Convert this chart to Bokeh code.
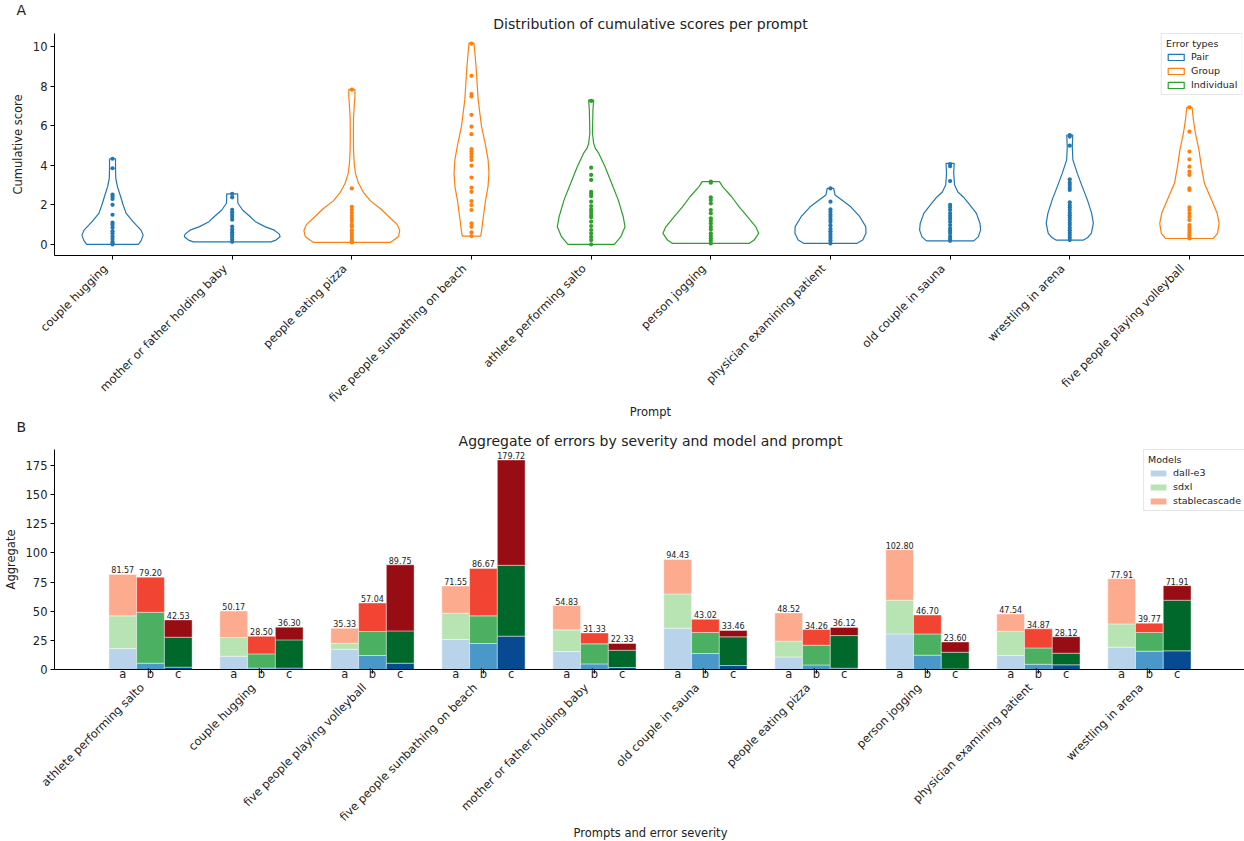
import math
from bokeh.plotting import figure
from bokeh.models import (FixedTicker, Legend, LegendItem, LinearAxis, Title,
                          Range1d, ColumnDataSource, CustomJSTickFormatter)
from bokeh.layouts import column
from bokeh.embed import file_html
from bokeh.resources import INLINE
from bokeh.core.properties import value

FONT = "DejaVu Sans"
TXT = "#222222"

# ---------------- Panel A data ----------------
violin_prompts = ["couple hugging", "mother or father holding baby", "people eating pizza",
                  "five people sunbathing on beach", "athlete performing salto", "person jogging",
                  "physician examining patient", "old couple in sauna", "wrestling in arena",
                  "five people playing volleyball"]
violin_types = ["Pair", "Pair", "Group", "Group", "Individual", "Individual",
                "Pair", "Pair", "Pair", "Group"]
type_colors = {"Pair": "#1f77b4", "Group": "#ff7f0e", "Individual": "#2ca02c"}

# violin outlines: score levels and half-widths (density)
hug_y = [0.0, 0.18, 0.47, 0.72, 1.15, 1.57, 1.99, 2.41, 2.92, 3.34, 3.8, 4.33]
hug_w = [0.216, 0.238, 0.256, 0.238, 0.171, 0.114, 0.089, 0.068, 0.041, 0.027, 0.025, 0.025]
baby_y = [0.13, 0.22, 0.39, 0.52, 0.72, 0.9, 1.15, 1.40, 1.74, 2.08, 2.3, 2.55]
baby_w = [0.325, 0.365, 0.40, 0.394, 0.352, 0.273, 0.194, 0.151, 0.087, 0.048, 0.046, 0.046]
pizza_y = [0.1, 0.2, 0.4, 0.7, 1.0, 1.4, 1.8, 2.2, 2.6, 3.1, 3.6, 4.1, 4.8, 5.6, 6.4, 7.0, 7.5, 7.84]
pizza_w = [0.32, 0.345, 0.39, 0.40, 0.38, 0.31, 0.24, 0.155, 0.10, 0.055, 0.03, 0.02, 0.014, 0.013,
           0.014, 0.02, 0.026, 0.025]
beach_y = [0.42, 0.72, 1.4, 2.24, 2.91, 3.59, 4.27, 5.11, 5.95, 7.3, 8.99, 10.17]
beach_w = [0.077, 0.085, 0.099, 0.118, 0.138, 0.146, 0.139, 0.114, 0.084, 0.056, 0.038, 0.021]
salto_y = [0.0, 0.38, 0.89, 1.40, 2.24, 3.09, 3.93, 4.61, 4.85, 5.11, 5.62, 6.8, 7.3]
salto_w = [0.194, 0.247, 0.283, 0.268, 0.227, 0.171, 0.116, 0.063, 0.035, 0.021, 0.011, 0.015, 0.021]
jog_y = [0.05, 0.22, 0.56, 0.89, 1.4, 1.9, 2.41, 2.91, 3.17]
jog_w = [0.32, 0.362, 0.40, 0.376, 0.306, 0.237, 0.174, 0.10, 0.072]
phys_y = [0.05, 0.22, 0.56, 0.9, 1.4, 1.9, 2.24, 2.5, 2.83]
phys_w = [0.22, 0.27, 0.297, 0.295, 0.245, 0.17, 0.095, 0.038, 0.027]
sauna_y = [0.18, 0.38, 0.72, 1.06, 1.57, 2.07, 2.4, 2.65, 3.0, 3.59, 4.10]
sauna_w = [0.198, 0.235, 0.255, 0.25, 0.22, 0.155, 0.11, 0.065, 0.037, 0.03, 0.034]
wrest_y = [0.22, 0.35, 0.56, 1.06, 1.57, 2.24, 2.91, 3.59, 4.27, 4.94, 5.53]
wrest_w = [0.115, 0.15, 0.18, 0.197, 0.183, 0.148, 0.105, 0.063, 0.026, 0.021, 0.025]
volley_y = [0.3, 0.56, 1.06, 1.57, 2.24, 3.09, 3.93, 4.77, 5.62, 6.29, 6.93]
volley_w = [0.2, 0.235, 0.248, 0.232, 0.185, 0.125, 0.1, 0.08, 0.05, 0.033, 0.022]

# individual cumulative scores (strip points)
hug_pts = [4.33, 3.85, 2.52, 2.42, 2.3, 2.0, 1.5, 1.1, 1.0, 0.85, 0.67, 0.55, 0.4, 0.27, 0.13, 0.05, 0.0]
baby_pts = [2.55, 2.38, 1.75, 1.62, 1.5, 1.38, 1.25, 0.9, 0.75, 0.62, 0.5, 0.38, 0.25, 0.13]
pizza_pts = [7.82, 2.83, 1.9, 1.75, 1.6, 1.45, 1.3, 1.18, 1.0, 0.9, 0.72, 0.58, 0.45, 0.32, 0.2, 0.1]
beach_pts = [10.15, 8.52, 7.6, 7.48, 6.55, 5.95, 5.57, 4.82, 4.69, 4.57, 4.43, 4.27, 3.98, 3.38,
             2.87, 2.66, 2.19, 1.99, 1.74, 1.06, 0.89, 0.61, 0.42]
salto_pts = [7.25, 3.88, 3.51, 3.26, 2.66, 2.55, 2.44, 2.16, 1.94, 1.77, 1.62, 1.48, 1.37, 1.15,
             0.93, 0.73, 0.56, 0.38, 0.22, 0.0]
jog_pts = [3.17, 3.12, 2.38, 2.24, 2.07, 1.74, 1.57, 1.32, 1.2, 1.06, 0.89, 0.76, 0.56, 0.43,
           0.31, 0.19, 0.05]
phys_pts = [2.83, 2.16, 1.77, 1.64, 1.5, 1.38, 1.25, 1.13, 0.96, 0.79, 0.66, 0.54, 0.42, 0.32, 0.2, 0.05]
sauna_pts = [4.06, 3.95, 3.2, 2.0, 1.88, 1.74, 1.57, 1.44, 1.3, 1.15, 0.98, 0.81, 0.68, 0.56,
             0.4, 0.28, 0.18]
wrest_pts = [5.53, 5.45, 4.99, 3.29, 3.12, 3.0, 2.87, 2.75, 2.13, 1.99, 1.87, 1.74, 1.6, 1.48,
             1.35, 1.23, 1.09, 0.98, 0.84, 0.72, 0.59, 0.47, 0.35, 0.22]
volley_pts = [6.93, 5.7, 4.69, 4.3, 3.93, 3.68, 3.51, 2.83, 2.75, 1.87, 1.74, 1.57, 1.4, 1.23,
              0.98, 0.86, 0.72, 0.59, 0.47, 0.38, 0.3]

violin_levels = [hug_y, baby_y, pizza_y, beach_y, salto_y, jog_y, phys_y, sauna_y, wrest_y, volley_y]
violin_widths = [hug_w, baby_w, pizza_w, beach_w, salto_w, jog_w, phys_w, sauna_w, wrest_w, volley_w]
violin_points = [hug_pts, baby_pts, pizza_pts, beach_pts, salto_pts, jog_pts, phys_pts, sauna_pts,
                 wrest_pts, volley_pts]

# ---------------- Panel B data ----------------
bar_prompts = ["athlete performing salto", "couple hugging", "five people playing volleyball",
               "five people sunbathing on beach", "mother or father holding baby",
               "old couple in sauna", "people eating pizza", "person jogging",
               "physician examining patient", "wrestling in arena"]
severities = ["a", "b", "c"]
models = ["dall-e3", "sdxl", "stablecascade"]

dalle_a = [18.0, 11.4, 17.4, 25.7, 15.4, 35.4, 10.8, 30.5, 12.0, 19.1]
sdxl_a = [28.0, 16.0, 5.1, 22.6, 18.6, 29.4, 13.5, 28.9, 20.8, 20.0]
sc_a = [35.57, 22.77, 12.83, 23.25, 20.83, 29.63, 24.22, 43.40, 14.74, 38.81]
dalle_b = [5.4, 1.2, 12.0, 22.3, 4.8, 13.7, 3.9, 12.3, 4.5, 15.7]
sdxl_b = [43.7, 12.2, 20.6, 23.7, 17.2, 18.0, 16.9, 18.2, 14.0, 16.0]
sc_b = [30.10, 15.10, 24.44, 40.67, 9.33, 11.32, 13.46, 16.20, 16.37, 8.07]
dalle_c = [2.0, 1.2, 5.4, 28.6, 1.7, 3.4, 1.1, 0.5, 4.0, 16.0]
sdxl_c = [25.7, 24.2, 27.7, 60.8, 14.8, 24.6, 28.0, 14.3, 10.0, 43.4]
sc_c = [14.83, 10.90, 56.65, 90.32, 5.83, 5.46, 7.02, 8.80, 14.12, 12.51]

sev_data = {"a": (dalle_a, sdxl_a, sc_a), "b": (dalle_b, sdxl_b, sc_b), "c": (dalle_c, sdxl_c, sc_c)}
sev_colors = {
    "a": ["#b9d4ea", "#b8e3b2", "#fcab8f"],
    "b": ["#4a98c9", "#4bb062", "#f14432"],
    "c": ["#084a91", "#00682a", "#980c13"],
}

# ---------------- helpers ----------------
def style_axes(p):
    p.outline_line_color = None
    p.xgrid.visible = False
    p.ygrid.visible = False
    for ax in (p.xaxis + p.yaxis):
        ax.axis_line_color = "#000000"
        ax.axis_line_width = 1
        ax.major_tick_line_color = "#000000"
        ax.major_tick_in = 0
        ax.major_tick_out = 4
        ax.minor_tick_line_color = None
        ax.major_label_text_font = FONT
        ax.major_label_text_font_size = "11.5px"
        ax.major_label_text_color = TXT
        ax.axis_label_text_font = FONT
        ax.axis_label_text_font_size = "11.5px"
        ax.axis_label_text_font_style = "normal"
        ax.axis_label_text_color = TXT


def style_legend(leg):
    leg.label_text_font = FONT
    leg.label_text_font_size = "9.5px"
    leg.label_text_color = TXT
    leg.title_text_font = FONT
    leg.title_text_font_size = "9.5px"
    leg.title_text_font_style = "normal"
    leg.title_text_color = TXT
    leg.glyph_width = 20
    leg.glyph_height = 8
    leg.label_height = 11
    leg.label_standoff = 5
    leg.spacing = 3
    leg.padding = 4
    leg.margin = 0
    leg.title_standoff = 2
    leg.border_line_color = "#cccccc"
    leg.background_fill_alpha = 0.85


def add_titles(p, letter, text, letter_standoff=-12, title_standoff=4):
    # panel letter as the plot title (outermost), chart title added nearer the frame
    p.title.text = letter
    p.title.align = "left"
    p.title.offset = -38
    p.title.text_font = FONT
    p.title.text_font_size = "14px"
    p.title.text_font_style = "normal"
    p.title.text_color = TXT
    p.title.standoff = letter_standoff
    t = Title(text=text, align="center", text_font=FONT, text_font_size="14px",
              text_font_style="normal", text_color=TXT, standoff=title_standoff,
              text_line_height=0.7)
    p.add_layout(t, "above")


FRAME_W = 1192

# ---------------- Panel A ----------------
SHIFT1 = 0.06  # label anchor nudge so the rotated text ends at its tick
p1 = figure(frame_width=FRAME_W, frame_height=222, x_range=Range1d(-0.485, 9.477),
            y_range=Range1d(-0.56, 10.66), output_backend="svg", toolbar_location=None,
            min_border_left=52, min_border_right=0, min_border_top=33, min_border_bottom=0)
add_titles(p1, "A", "Distribution of cumulative scores per prompt")

type_renderer = {}
for i, (lv, wd, pts, t) in enumerate(zip(violin_levels, violin_widths, violin_points, violin_types)):
    col = type_colors[t]
    xs = [i - w for w in wd] + [i + w for w in reversed(wd)]
    ys = list(lv) + list(reversed(lv))
    r = p1.patch(xs, ys, fill_alpha=0, line_color=col, line_width=1.2)
    type_renderer.setdefault(t, r)
    p1.scatter([i] * len(pts), pts, size=4.2, color=col, line_color=None)

p1.yaxis.ticker = FixedTicker(ticks=[0, 2, 4, 6, 8, 10])
p1.xaxis.axis_label = "Prompt"
p1.yaxis.axis_label = "Cumulative score"
style_axes(p1)
p1.xaxis.ticker = FixedTicker(ticks=[i - SHIFT1 for i in range(10)], minor_ticks=list(range(10)))
p1.xaxis.formatter = CustomJSTickFormatter(args=dict(names=violin_prompts, sh=SHIFT1),
                                           code="return names[Math.round(tick + sh)];")
p1.xaxis.major_label_orientation = math.pi / 4
p1.xaxis.major_tick_out = 0
p1.xaxis.minor_tick_line_color = "#000000"
p1.xaxis.minor_tick_out = 4
p1.xaxis.minor_tick_in = 0
p1.xaxis.major_label_standoff = 7
p1.xaxis.axis_label_standoff = -8
p1.yaxis.major_label_standoff = 3

leg1 = Legend(items=[LegendItem(label=t, renderers=[type_renderer[t]]) for t in ["Pair", "Group", "Individual"]],
              location="top_right", title="Error types")
style_legend(leg1)
p1.add_layout(leg1)

# ---------------- Panel B ----------------
GAP = 4  # x units per prompt group; each bar is 1 unit wide
SHIFT2 = 0.3
p2 = figure(frame_width=FRAME_W, frame_height=220, x_range=Range1d(-0.865 * GAP, 39.5),
            y_range=Range1d(0, 188.7), output_backend="svg", toolbar_location=None,
            min_border_left=52, min_border_right=0, min_border_top=20, min_border_bottom=0)
add_titles(p2, "B", "Aggregate of errors by severity and model and prompt",
           letter_standoff=-9, title_standoff=1)

legend_rends = None
for k, s in enumerate(severities):
    d, sx, sc = sev_data[s]
    xs = [i * GAP + (k - 1) for i in range(len(bar_prompts))]
    totals = [a + b + c for a, b, c in zip(d, sx, sc)]
    src = ColumnDataSource(dict(x=xs, dalle=d, sdxl=sx, sc=sc))
    rends = p2.vbar_stack(["dalle", "sdxl", "sc"], x="x", width=1, source=src,
                          color=sev_colors[s], line_color="white", line_width=0.7, line_alpha=0.6)
    if s == "a":
        legend_rends = rends
    p2.text(x=xs, y=totals, text=["%.2f" % v for v in totals], text_align="center",
            text_baseline="bottom", y_offset=-1, text_font=value(FONT),
            text_font_size=value("8px"), text_color=TXT)

abc_ticks = []
abc_over = {}
for i in range(len(bar_prompts)):
    for k, s in enumerate(severities):
        t = i * GAP + (k - 1)
        abc_ticks.append(t)
        abc_over[t] = s
p2.yaxis.ticker = FixedTicker(ticks=[0, 25, 50, 75, 100, 125, 150, 175])
p2.yaxis.axis_label = "Aggregate"
style_axes(p2)
p2.xaxis.ticker = FixedTicker(ticks=abc_ticks, minor_ticks=[i * GAP for i in range(len(bar_prompts))])
p2.xaxis.major_label_overrides = abc_over
p2.xaxis.major_tick_out = 0
p2.xaxis.minor_tick_line_color = "#000000"
p2.xaxis.minor_tick_out = 4
p2.xaxis.minor_tick_in = 0
p2.xaxis.major_label_standoff = -7
p2.yaxis.major_label_standoff = 3

ax2 = LinearAxis(ticker=FixedTicker(ticks=[i * GAP - SHIFT2 for i in range(len(bar_prompts))]),
                 formatter=CustomJSTickFormatter(args=dict(names=bar_prompts, sh=SHIFT2, g=GAP),
                                                 code="return names[Math.round((tick + sh) / g)];"),
                 major_label_orientation=math.pi / 4, axis_line_color=None,
                 major_tick_line_color=None, minor_tick_line_color=None,
                 major_tick_out=0, major_tick_in=0, major_label_standoff=2,
                 major_label_text_font=FONT, major_label_text_font_size="11.5px",
                 major_label_text_color=TXT, axis_label="Prompts and error severity",
                 axis_label_standoff=-6,
                 axis_label_text_font=FONT, axis_label_text_font_size="11.5px",
                 axis_label_text_font_style="normal", axis_label_text_color=TXT)
p2.add_layout(ax2, "below")

leg2 = Legend(items=[LegendItem(label=m, renderers=[r]) for m, r in zip(models, legend_rends)],
              location="top_right", title="Models")
style_legend(leg2)
p2.add_layout(leg2)

layout = column(p1, p2, spacing=0)
open("out.html", "w").write(file_html(layout, INLINE))
